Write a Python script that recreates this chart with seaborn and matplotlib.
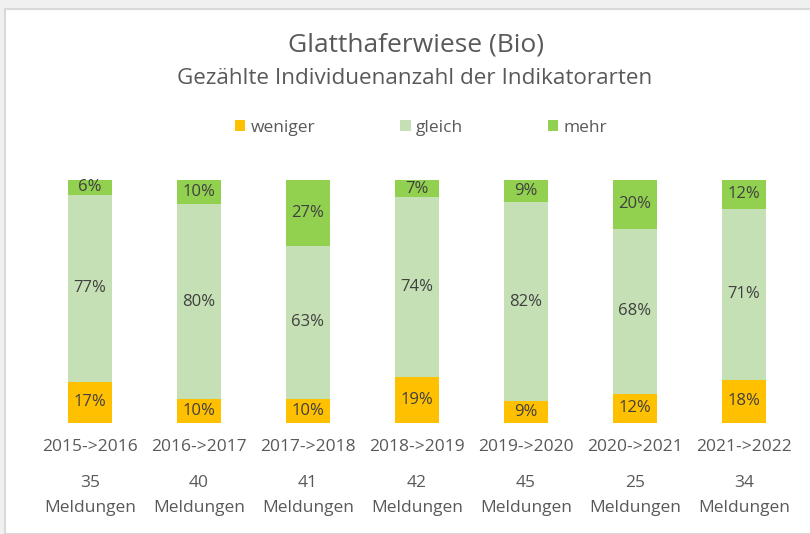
import numpy as np
import pandas as pd
import matplotlib
matplotlib.use("Agg")
from matplotlib import pyplot as plt
from matplotlib.patches import Rectangle
import seaborn as sns

periods = ["2015->2016", "2016->2017", "2017->2018", "2018->2019",
           "2019->2020", "2020->2021", "2021->2022"]
meldungen = [35, 40, 41, 42, 45, 25, 34]
weniger = [17, 10, 10, 19, 9, 12, 18]
gleich = [77, 80, 63, 74, 82, 68, 71]
mehr = [6, 10, 27, 7, 9, 20, 12]

series = ["weniger", "gleich", "mehr"]
colors = {"weniger": "#FFC000", "gleich": "#C5E0B4", "mehr": "#92D050"}

sns.set_style("white")
plt.rcParams["font.family"] = ["Open Sans", "DejaVu Sans"]

df = pd.DataFrame({"period": periods, "weniger": weniger, "gleich": gleich, "mehr": mehr})
total = df[series].sum(axis=1)
# 100% stacked: normalise like Excel does
share = df[series].div(total, axis=0)
cum = share.cumsum(axis=1)
df_cum = pd.concat([df[["period"]], cum], axis=1)

fig = plt.figure(figsize=(8.1, 5.34), dpi=100)
fig.patch.set_facecolor("#F0F0F0")
fig.patches.append(Rectangle((5 / 810, 0), 1.0, 1 - 9 / 534, transform=fig.transFigure,
                             facecolor="white", edgecolor="#D9D9D9", linewidth=1.5, zorder=-5))

ax = fig.add_axes([35.5 / 810, 1 - 423 / 534, 763 / 810, 243 / 534])
ax.set_facecolor("none")
ax.set_zorder(2)

# draw from the top segment down so the lower layers overlap
for s in reversed(series):
    sns.barplot(data=df_cum, x="period", y=s, color=colors[s], width=0.405,
                saturation=1, ax=ax, label=s, linewidth=0)

handles, labels = ax.get_legend_handles_labels()
if ax.get_legend() is not None:
    ax.get_legend().remove()

ax.set_ylim(0, 1)
ax.set_xlim(-0.5, len(periods) - 0.5)
for sp in ax.spines.values():
    sp.set_visible(False)
ax.set_yticks([])
ax.set_ylabel("")
ax.set_xlabel("")
ax.set_xticks(range(len(periods)))
ax.set_xticklabels([])
ax.tick_params(axis="x", length=0)

txt = "#595959"
lab = "#404040"
for i, p in enumerate(periods):
    lower = 0.0
    for s in series:
        h = share.loc[i, s]
        ax.text(i, lower + h / 2, f"{df.loc[i, s]}%", ha="center", va="center",
                fontsize=12, color=lab, clip_on=False)
        lower += h
    ax.text(i, -24 / 243, p, ha="center", va="center", fontsize=12.5, color=txt, clip_on=False)
    ax.text(i, -60 / 243, str(meldungen[i]), ha="center", va="center", fontsize=12.5,
            color=txt, clip_on=False)
    ax.text(i, -85 / 243, "Meldungen", ha="center", va="center", fontsize=12.5,
            color=txt, clip_on=False)

fig.text(416 / 810, 1 - 45 / 534, "Glatthaferwiese (Bio)", ha="center", va="center",
         fontsize=19, color=txt)
fig.text(415 / 810, 1 - 78 / 534, "Gezählte Individuenanzahl der Indikatorarten",
         ha="center", va="center", fontsize=16.2, color=txt)

order = [labels.index(s) for s in series]
fig.legend([handles[k] for k in order], series, loc="center",
           bbox_to_anchor=(421 / 810, 1 - 128 / 534), ncol=3, frameon=False,
           fontsize=12.5, labelcolor=txt, handlelength=0.6, handleheight=0.6,
           handletextpad=0.3, columnspacing=4.9)

fig.savefig("out.png", dpi=100, facecolor=fig.get_facecolor())
